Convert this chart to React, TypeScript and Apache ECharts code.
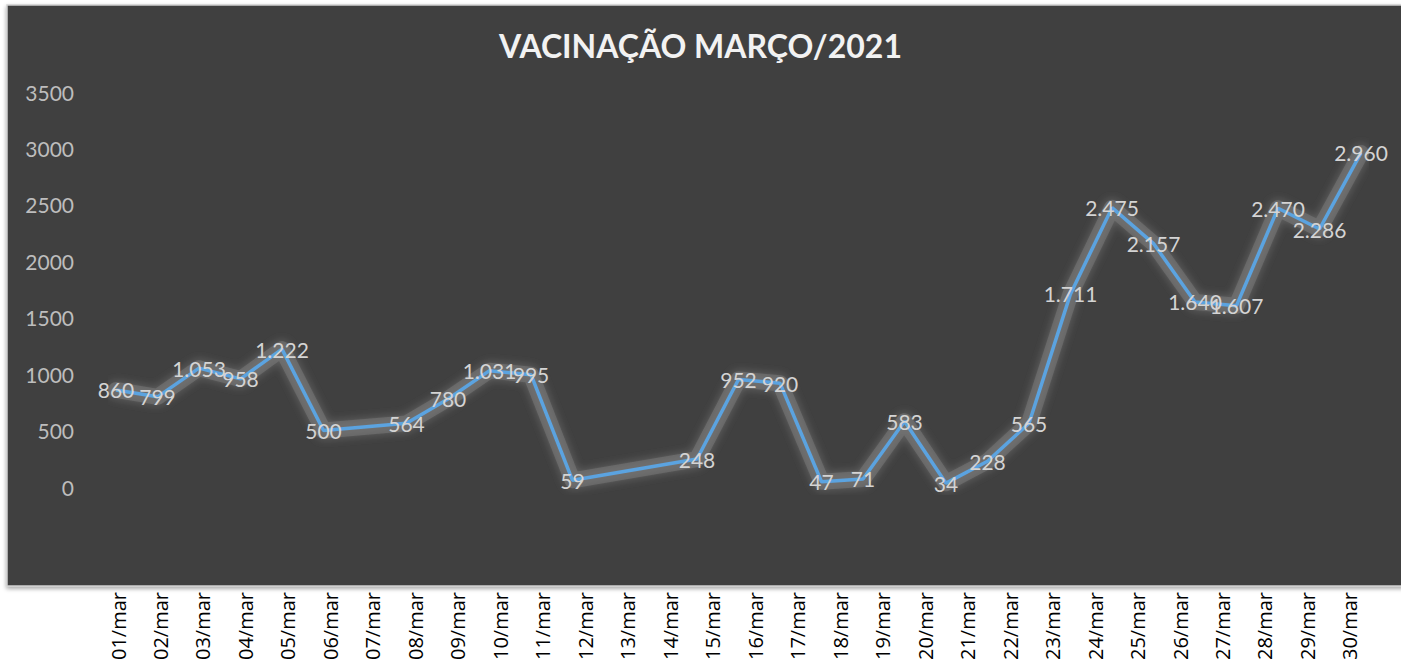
import React, { useEffect, useRef } from "react";
import * as echarts from "echarts";

// Days of the series (one point per day)
const dias = [
  "01/mar", "02/mar", "03/mar", "04/mar", "05/mar", "06/mar", "07/mar", "08/mar",
  "09/mar", "10/mar", "11/mar", "12/mar", "13/mar", "14/mar", "15/mar", "16/mar",
  "17/mar", "18/mar", "19/mar", "20/mar", "21/mar", "22/mar", "23/mar", "24/mar",
  "25/mar", "26/mar", "27/mar", "28/mar", "29/mar", "30/mar", "31/mar",
];

// Vaccinations per day (null = no record, line connects across)
const vacinados: (number | null)[] = [
  860, 799, 1053, 958, 1222, 500, null, 564, 780, 1031, 995, 59, null, null, 248,
  952, 920, 47, 71, 583, 34, 228, 565, 1711, 2475, 2157, 1640, 1607, 2470, 2286, 2960,
];

// Labels printed under the chart
const rotulosEixo = [
  "01/mar", "02/mar", "03/mar", "04/mar", "05/mar", "06/mar", "07/mar", "08/mar",
  "09/mar", "10/mar", "11/mar", "12/mar", "13/mar", "14/mar", "15/mar", "16/mar",
  "17/mar", "18/mar", "19/mar", "20/mar", "21/mar", "22/mar", "23/mar", "24/mar",
  "25/mar", "26/mar", "27/mar", "28/mar", "29/mar", "30/mar",
];

const yMin = 0;
const yMax = 3500;
const yStep = 500;

const fmt = (v: number) => String(v).replace(/\B(?=(\d{3})+(?!\d))/g, ".");

export default function App() {
  const ref = useRef<HTMLDivElement>(null);
  useEffect(() => {
    if (!ref.current) return;
    const chart = echarts.init(ref.current, null, { renderer: "svg" });
    chart.setOption({
      animation: false,
      backgroundColor: "#ffffff",
      graphic: [
        {
          type: "rect",
          z: -10,
          silent: true,
          shape: { x: 7, y: 5, width: 1400, height: 581 },
          style: {
            fill: "#404040",
            stroke: "#cfcfcf",
            lineWidth: 1.5,
            shadowBlur: 4,
            shadowOffsetY: 2,
            shadowColor: "rgba(0,0,0,0.35)",
          },
        },
      ],
      title: {
        text: "VACINAÇÃO MARÇO/2021",
        left: "center",
        top: 24,
        textStyle: {
          color: "#f2f2f2",
          fontFamily: "Lato",
          fontWeight: "bold",
          fontSize: 32,
        },
      },
      grid: [
        { left: 116, width: 1245, top: 92, height: 395 },
        { left: 96.76, width: 1274.4, top: 560, height: 27 },
      ],
      xAxis: [
        { type: "category", gridIndex: 0, data: dias, boundaryGap: false, show: false },
        {
          type: "category",
          gridIndex: 1,
          data: rotulosEixo,
          boundaryGap: true,
          axisLine: { show: false },
          axisTick: { show: false },
          axisLabel: {
            rotate: 90,
            margin: 5,
            interval: 0,
            color: "#000000",
            fontFamily: "Open Sans",
            fontSize: 20,
          },
        },
      ],
      yAxis: [
        {
          type: "value",
          gridIndex: 0,
          min: yMin,
          max: yMax,
          interval: yStep,
          axisLine: { show: false },
          axisTick: { show: false },
          splitLine: { show: false },
          axisLabel: {
            margin: 42,
            color: "#bdbdbd",
            fontFamily: "Lato",
            fontSize: 21,
            formatter: (v: number) => String(v),
          },
        },
        { type: "value", gridIndex: 1, show: false },
      ],
      series: [
        {
          // soft gray glow under the line
          type: "line",
          xAxisIndex: 0,
          yAxisIndex: 0,
          data: vacinados,
          connectNulls: true,
          showSymbol: false,
          silent: true,
          z: 1,
          lineStyle: {
            color: "rgba(120,120,120,0.55)",
            width: 16,
            join: "round",
            cap: "round",
            shadowBlur: 10,
            shadowColor: "rgba(150,150,150,0.8)",
          },
        },
        {
          type: "line",
          xAxisIndex: 0,
          yAxisIndex: 0,
          data: vacinados,
          connectNulls: true,
          symbol: "circle",
          symbolSize: 1,
          z: 3,
          itemStyle: { color: "rgba(0,0,0,0)" },
          lineStyle: {
            color: "#5ba3e0",
            width: 3.5,
          },
          label: {
            show: true,
            position: "inside",
            color: "#d4d4d4",
            fontFamily: "Lato",
            fontSize: 21,
            formatter: (p: any) => fmt(p.value),
          },
        },
      ],
    });
    return () => chart.dispose();
  }, []);
  return (
    <div
      ref={ref}
      style={{ position: "fixed", left: 0, top: 0, width: 1401, height: 666, background: "#fff" }}
    />
  );
}
